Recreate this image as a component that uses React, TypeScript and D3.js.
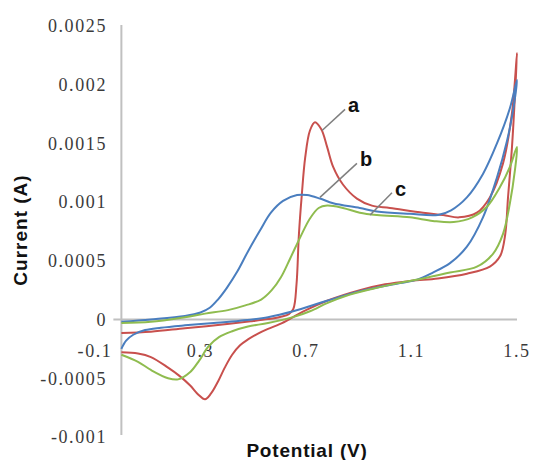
import React from "react";
import * as d3 from "d3";

// Tick values
const xTicks = [-0.1, 0.3, 0.7, 1.1, 1.5];
const yTicks = [0.0025, 0.002, 0.0015, 0.001, 0.0005, 0, -0.0005, -0.001];
const yTickLabels = ["0.0025", "0.002", "0.0015", "0.001", "0.0005", "0", "-0.0005", "-0.001"];

// Curve a (red): [potential V, current A], forward then reverse scan
const curveA: [number, number][] = [
  [0, -0.000115], [0.112, -0.000104], [0.241, -0.000074], [0.366, -0.000047], [0.491, -0.000015],
  [0.556, 0.000004], [0.601, 0.000022], [0.635, 0.000045], [0.652, 0.00009], [0.664, 0.0003],
  [0.673, 0.00072], [0.684, 0.00106], [0.697, 0.00138], [0.715, 0.00161], [0.734, 0.00168],
  [0.758, 0.00162], [0.78, 0.00147], [0.803, 0.0013], [0.84, 0.00115], [0.893, 0.00103],
  [0.95, 0.00097], [1.018, 0.00095], [1.144, 0.00091], [1.22, 0.00089], [1.28, 0.00087],
  [1.348, 0.00091], [1.397, 0.00104], [1.447, 0.00133], [1.481, 0.00176], [1.5, 0.00227],
  [1.492, 0.0019], [1.481, 0.00147], [1.466, 0.00104], [1.455, 0.00072], [1.436, 0.00054],
  [1.397, 0.00045], [1.31, 0.00039], [1.2, 0.00035], [1.1, 0.00033], [1.0, 0.0003],
  [0.904, 0.00025], [0.78, 0.00016], [0.7, 0.00008], [0.651, 0.00002], [0.6, -0.00004],
  [0.556, -0.00008], [0.518, -0.00012], [0.48, -0.00017], [0.45, -0.00022], [0.42, -0.0003],
  [0.392, -0.00041], [0.366, -0.00053], [0.34, -0.00063], [0.317, -0.00068], [0.292, -0.00064],
  [0.26, -0.00056], [0.22, -0.00048], [0.177, -0.00041], [0.112, -0.00032], [0.063, -0.00029],
  [0, -0.00028],
];

// Curve b (blue)
const curveB: [number, number][] = [
  [0, -0.00002], [0.112, 0.0], [0.241, 0.00003], [0.3, 0.00006], [0.335, 0.0001],
  [0.366, 0.00017], [0.4, 0.00027], [0.44, 0.00041], [0.48, 0.00058], [0.526, 0.00076],
  [0.567, 0.00091], [0.613, 0.00101], [0.666, 0.00106], [0.704, 0.00106], [0.753, 0.00103],
  [0.803, 0.00099], [0.904, 0.00095], [0.969, 0.00092], [1.094, 0.0009], [1.2, 0.00089],
  [1.25, 0.00093], [1.31, 0.00104], [1.371, 0.00124], [1.424, 0.0015], [1.473, 0.0018],
  [1.5, 0.00204],
  [1.485, 0.00178], [1.462, 0.00152], [1.424, 0.00121], [1.371, 0.00087], [1.31, 0.00062],
  [1.246, 0.00048], [1.181, 0.0004], [1.121, 0.00034], [1.056, 0.00031], [0.904, 0.00024],
  [0.78, 0.00016], [0.651, 0.00007], [0.556, 0.00002], [0.45, -0.00001], [0.35, -0.00003],
  [0.241, -0.00005], [0.15, -0.00007], [0.09, -0.00009], [0.045, -0.00013], [0.018, -0.00018],
  [0, -0.00025],
];

// Curve c (green)
const curveC: [number, number][] = [
  [0, -0.00003], [0.112, -0.00002], [0.241, 0.00002], [0.317, 0.00005], [0.404, 0.00008],
  [0.47, 0.00012], [0.53, 0.00017], [0.57, 0.00025], [0.605, 0.00036], [0.64, 0.00052],
  [0.678, 0.0007], [0.715, 0.00086], [0.748, 0.00095], [0.78, 0.00097], [0.84, 0.00095],
  [0.904, 0.00091], [0.969, 0.00089], [1.094, 0.00087], [1.181, 0.00084], [1.26, 0.00083],
  [1.33, 0.00087], [1.386, 0.00096], [1.436, 0.00113], [1.473, 0.0013], [1.5, 0.00147],
  [1.492, 0.00127], [1.473, 0.00099], [1.447, 0.00073], [1.409, 0.00056], [1.348, 0.00045],
  [1.246, 0.0004], [1.144, 0.00035], [1.05, 0.00031], [0.95, 0.00026], [0.85, 0.0002],
  [0.78, 0.00014], [0.715, 0.00007], [0.651, 0.00002], [0.556, -0.00003], [0.48, -0.00006],
  [0.42, -0.0001], [0.37, -0.00015], [0.33, -0.00023], [0.295, -0.00035], [0.26, -0.00045],
  [0.215, -0.00051], [0.177, -0.0005], [0.112, -0.00043], [0.063, -0.00036], [0, -0.0003],
];

const seriesNames = ["a", "b", "c"];
const seriesColors = ["#c8504d", "#4a7ebf", "#8fbc4f"];
// Callout anchor points on each curve [V, A] and label positions [V, A]
const calloutAnchors: [number, number][] = [[0.761, 0.00161], [0.753, 0.00104], [0.943, 0.00089]];
const calloutEnds: [number, number][] = [[0.848, 0.00179], [0.893, 0.00133], [1.026, 0.00108]];

export default function App() {
  const W = 533, H = 460;
  const x = d3.scaleLinear().domain([-0.1, 1.5]).range([95, 517]);
  const y = d3.scaleLinear().domain([0, 0.0025]).range([319.5, 26]);
  const line = d3
    .line<[number, number]>()
    .x((d) => x(d[0]))
    .y((d) => y(d[1]))
    .curve(d3.curveCatmullRom.alpha(0.5));
  const curves = [curveA, curveB, curveC];
  const axisColor = "#c0c0c0";
  const serif = "'Liberation Serif', 'Times New Roman', serif";
  const sans = "'Liberation Sans', Arial, sans-serif";
  return (
    <svg width={W} height={H} style={{ position: "absolute", left: 0, top: 0, background: "#fff" }}>
      {/* axes */}
      <line x1={x(0)} x2={x(0)} y1={y(0.0025) - 1} y2={y(-0.001) - 2} stroke={axisColor} strokeWidth={2} />
      <line x1={x(0) - 8} x2={x(1.5)} y1={y(0)} y2={y(0)} stroke={axisColor} strokeWidth={2.2} />
      {/* y tick labels */}
      {yTicks.map((t, i) => (
        <text key={"y" + i} x={107} y={y(t)} dy="0.35em" textAnchor="end" fontFamily={serif}
          fontSize={18} letterSpacing={1.6} fill="#3a3a3a">
          {yTickLabels[i]}
        </text>
      ))}
      {/* x tick labels */}
      {xTicks.map((t, i) => (
        <text key={"x" + i} x={x(t)} y={351} dy="0.35em" textAnchor="middle" fontFamily={serif}
          fontSize={18} letterSpacing={1.6} fill="#3a3a3a">
          {String(t)}
        </text>
      ))}
      {/* curves */}
      {curves.map((c, i) => (
        <path key={"c" + i} d={line(c) || ""} fill="none" stroke={seriesColors[i]} strokeWidth={2} strokeLinejoin="round" />
      ))}
      {/* callouts */}
      {seriesNames.map((n, i) => (
        <g key={"l" + i}>
          <line x1={x(calloutAnchors[i][0])} y1={y(calloutAnchors[i][1])} x2={x(calloutEnds[i][0])} y2={y(calloutEnds[i][1])}
            stroke="#7f7f7f" strokeWidth={1.5} />
          <text x={x(calloutEnds[i][0]) + 3} y={y(calloutEnds[i][1]) + 3} fontFamily={sans} fontWeight="bold"
            fontSize={20} fill="#111">
            {n}
          </text>
        </g>
      ))}
      {/* axis titles */}
      <text x={307} y={457} textAnchor="middle" fontFamily={sans} fontWeight="bold" fontSize={19}
        letterSpacing={0.8} fill="#111">
        Potential (V)
      </text>
      <text transform="translate(27,230) rotate(-90)" textAnchor="middle" fontFamily={sans} fontWeight="bold"
        fontSize={19} letterSpacing={1} fill="#111">
        Current (A)
      </text>
    </svg>
  );
}
